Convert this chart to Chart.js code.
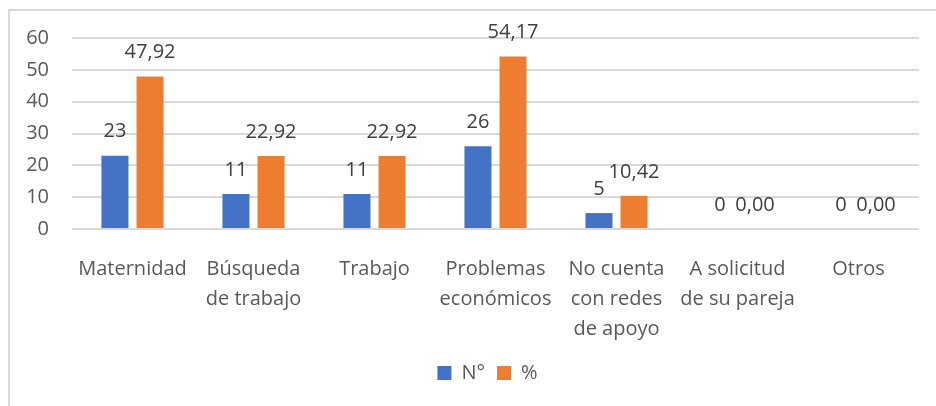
<!DOCTYPE html>
<html>
<head>
<meta charset="utf-8">
<script src="https://cdn.jsdelivr.net/npm/chart.js@4.4.0/dist/chart.umd.min.js"></script>
<style>
  html, body { margin: 0; padding: 0; background: #fff; }
  #wrap { width: 936px; height: 406px; position: relative; }
</style>
</head>
<body>
<div id="wrap"><canvas id="myChart"></canvas></div>
<script>
// data
var categories = [
  ['Maternidad'],
  ['Búsqueda', 'de trabajo'],
  ['Trabajo'],
  ['Problemas', 'económicos'],
  ['No cuenta', 'con redes', 'de apoyo'],
  ['A solicitud', 'de su pareja'],
  ['Otros']
];
var countValues = [23, 11, 11, 26, 5, 0, 0];
var pctValues = [47.92, 22.92, 22.92, 54.17, 10.42, 0, 0];
var seriesNames = ['N°', '%'];
var yTicks = [0, 10, 20, 30, 40, 50, 60];

var fontFam = "'Open Sans', sans-serif";

// grey frame round the chart
var framePlugin = {
  id: 'frame',
  afterLayout: function(chart) {
    // nudge legend a bit to the right, like the original
    if (chart.legend) {
      chart.legend.left += 28;
      chart.legend.right += 28;
    }
  },
  beforeDraw: function(chart) {
    var ctx = chart.ctx;
    ctx.save();
    ctx.strokeStyle = '#d9d9d9';
    ctx.lineWidth = 2;
    ctx.strokeRect(9, 10, 960, 420);
    ctx.restore();
  }
};

// value labels above bars
var labelPlugin = {
  id: 'valueLabels',
  afterDatasetsDraw: function(chart) {
    var ctx = chart.ctx;
    ctx.save();
    ctx.font = '20px ' + fontFam;
    ctx.fillStyle = '#404040';
    ctx.textAlign = 'center';
    ctx.textBaseline = 'middle';
    chart.data.datasets.forEach(function(ds, di) {
      var meta = chart.getDatasetMeta(di);
      meta.data.forEach(function(bar, i) {
        var v = ds.data[i];
        var txt = di === 0 ? String(v) : v.toFixed(2).replace('.', ',');
        ctx.fillText(txt, bar.x, bar.y - 24);
      });
    });
    ctx.restore();
  }
};

function startChart() {
  var ctx = document.getElementById('myChart').getContext('2d');
  new Chart(ctx, {
    type: 'bar',
    data: {
      labels: categories,
      datasets: [{
        label: seriesNames[0],
        data: countValues,
        backgroundColor: '#4472C4',
        categoryPercentage: 0.58,
        barPercentage: 0.77
      }, {
        label: seriesNames[1],
        data: pctValues,
        backgroundColor: '#ED7D31',
        categoryPercentage: 0.58,
        barPercentage: 0.77
      }]
    },
    options: {
      responsive: true,
      maintainAspectRatio: false,
      animation: false,
      layout: { padding: { left: 0, right: 17, top: 38, bottom: 13 } },
      plugins: {
        tooltip: { enabled: false },
        legend: {
          position: 'bottom',
          labels: {
            boxWidth: 14,
            boxHeight: 14,
            padding: 12,
            color: '#595959',
            font: { family: fontFam, size: 20 }
          }
        }
      },
      scales: {
        x: {
          grid: { display: false },
          border: { display: false },
          ticks: {
            color: '#595959',
            padding: 17,
            maxRotation: 0,
            autoSkip: false,
            font: { family: fontFam, size: 20, lineHeight: 1.5 }
          },
          afterFit: function(scale) { scale.height = 122; }
        },
        y: {
          min: 0,
          max: 60,
          afterBuildTicks: function(scale) {
            scale.ticks = yTicks.map(function(v) { return { value: v }; });
          },
          grid: { color: '#d9d9d9', lineWidth: 2, drawTicks: false },
          border: { display: false },
          ticks: {
            color: '#595959',
            padding: 23,
            font: { family: fontFam, size: 20 }
          },
          afterFit: function(scale) { scale.width = 72; }
        }
      }
    },
    plugins: [framePlugin, labelPlugin]
  });
}

if (document.fonts && document.fonts.load) {
  document.fonts.load("20px 'Open Sans'").then(startChart, startChart);
} else {
  startChart();
}
</script>
</body>
</html>
